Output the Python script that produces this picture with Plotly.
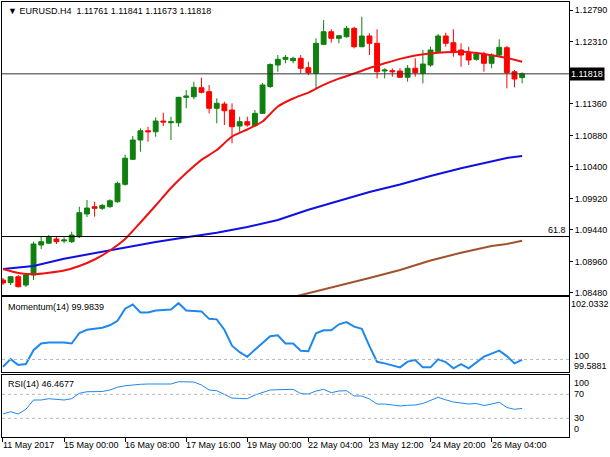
import plotly.graph_objects as go

# ---------------- data ----------------
bars = list(range(69))  # H4 bars, 11 May 2017 20:00 ... 26 May 2017 20:00

opens = [1.08678, 1.08637, 1.08728, 1.08601, 1.08754, 1.09211, 1.09238, 1.09302, 1.09272, 1.09261,
         1.09337, 1.09683, 1.09794, 1.09770, 1.09794, 1.09870, 1.10135, 1.10516, 1.10810, 1.10951,
         1.10936, 1.11099, 1.11073, 1.11073, 1.11460, 1.11469, 1.11606, 1.11546, 1.11293, 1.11358,
         1.11267, 1.11023, 1.11089, 1.11028, 1.11216, 1.11625, 1.11952, 1.12039, 1.12018, 1.12054,
         1.11911, 1.11826, 1.12267, 1.12459, 1.12359, 1.12383, 1.12511, 1.12231, 1.12394, 1.12283,
         1.11861, 1.11866, 1.11861, 1.11765, 1.11902, 1.11826, 1.11952, 1.12155, 1.12394, 1.12292,
         1.12181, 1.12130, 1.12039, 1.12120, 1.11978, 1.12104, 1.12216, 1.11850, 1.11761]
highs = [1.08708, 1.08739, 1.08754, 1.08784, 1.09261, 1.09337, 1.09363, 1.09337, 1.09328, 1.09413,
         1.09794, 1.09896, 1.09870, 1.09836, 1.09907, 1.10175, 1.10585, 1.10871, 1.10988, 1.11012,
         1.11155, 1.11226, 1.11165, 1.11469, 1.11571, 1.11698, 1.11758, 1.11648, 1.11445, 1.11393,
         1.11369, 1.11165, 1.11165, 1.11267, 1.11678, 1.11978, 1.12105, 1.12105, 1.12079, 1.12105,
         1.12002, 1.12359, 1.12637, 1.12496, 1.12409, 1.12546, 1.12535, 1.12688, 1.12435, 1.12496,
         1.11902, 1.11902, 1.11902, 1.11952, 1.12054, 1.12181, 1.12231, 1.12424, 1.12444, 1.12496,
         1.12283, 1.12231, 1.12155, 1.12155, 1.12130, 1.12343, 1.12242, 1.11876, 1.11841]
lows = [1.08601, 1.08601, 1.08563, 1.08571, 1.08678, 1.09150, 1.09226, 1.09226, 1.09237, 1.09241,
        1.09317, 1.09637, 1.09642, 1.09744, 1.09779, 1.09855, 1.10114, 1.10505, 1.10632, 1.10784,
        1.10860, 1.11023, 1.10810, 1.11012, 1.11293, 1.11430, 1.11521, 1.11216, 1.11064, 1.11038,
        1.10760, 1.10936, 1.11012, 1.11008, 1.11206, 1.11602, 1.11850, 1.11978, 1.11978, 1.11826,
        1.11800, 1.11597, 1.12257, 1.12292, 1.12283, 1.12368, 1.12206, 1.12222, 1.12104, 1.11749,
        1.11749, 1.11774, 1.11758, 1.11698, 1.11774, 1.11673, 1.11926, 1.12142, 1.12231, 1.12079,
        1.11926, 1.11952, 1.12018, 1.11850, 1.11902, 1.12079, 1.11597, 1.11612, 1.11673]
closes = [1.08632, 1.08728, 1.08576, 1.08754, 1.09226, 1.09261, 1.09328, 1.09261, 1.09287, 1.09363,
          1.09703, 1.09774, 1.09770, 1.09814, 1.09885, 1.10150, 1.10533, 1.10810, 1.10951, 1.10936,
          1.11099, 1.11084, 1.11089, 1.11460, 1.11480, 1.11612, 1.11536, 1.11293, 1.11369, 1.11256,
          1.11012, 1.11089, 1.11038, 1.11216, 1.11648, 1.11960, 1.12039, 1.12069, 1.12054, 1.11902,
          1.11835, 1.12283, 1.12459, 1.12359, 1.12398, 1.12511, 1.12231, 1.12394, 1.12283, 1.11850,
          1.11876, 1.11850, 1.11765, 1.11902, 1.11835, 1.11967, 1.12181, 1.12394, 1.12283, 1.12155,
          1.12104, 1.12028, 1.12120, 1.11978, 1.12104, 1.12222, 1.11835, 1.11739, 1.11818]

ma_red_bars = list(range(0, 69, 2))
ma_red = [1.08845, 1.08784, 1.08764, 1.08787, 1.08822, 1.08891, 1.08990, 1.09127, 1.09302, 1.09553,
          1.09812, 1.10079, 1.10307, 1.10508, 1.10657, 1.10863, 1.10970, 1.11092, 1.11320, 1.11442,
          1.11533, 1.11650, 1.11745, 1.11823, 1.11906, 1.11979, 1.12046, 1.12097, 1.12127, 1.12145,
          1.12153, 1.12135, 1.12101, 1.12059, 1.12002]

ma_blue_bars = [0, 4, 8, 12, 16, 20, 24, 28, 32, 36, 40, 44, 48, 52, 56, 60, 64, 66, 68]
ma_blue = [1.08845, 1.08891, 1.09002, 1.09086, 1.09173, 1.09256, 1.09328, 1.09397, 1.09485, 1.09591,
           1.09748, 1.09881, 1.10018, 1.10132, 1.10262, 1.10379, 1.10479, 1.10536, 1.10566]

ma_brown_bars = [38, 40, 44, 48, 52, 56, 60, 64, 66, 68]
ma_brown = [1.08419, 1.08475, 1.08594, 1.08708, 1.08830, 1.08975, 1.09093, 1.09195, 1.09226, 1.09276]

momentum = [99.761, 100.012, 99.816, 99.849, 100.305, 100.524, 100.556, 100.556, 100.556, 100.524,
            100.869, 100.974, 101.006, 101.039, 101.120, 101.267, 101.665, 101.805, 101.544, 101.544,
            101.609, 101.626, 101.642, 101.847, 101.609, 101.593, 101.577, 101.332, 101.316, 100.974,
            100.452, 100.240, 100.087, 100.322, 100.550, 100.762, 100.794, 100.524, 100.524, 100.289,
            100.273, 100.860, 100.957, 100.957, 101.153, 101.228, 101.078, 101.006, 100.436, 99.924,
            99.872, 99.807, 99.741, 99.930, 99.979, 99.741, 99.741, 100.002, 99.914, 99.709,
            99.849, 99.709, 99.914, 100.093, 100.191, 100.289, 100.110, 99.872, 99.9839]

rsi = [37.2, 41.0, 37.2, 45.0, 60.5, 60.5, 62.7, 61.3, 60.5, 62.7,
       71.7, 74.3, 74.3, 74.7, 77.2, 81.7, 84.3, 86.0, 86.7, 87.2,
       87.2, 87.2, 87.2, 91.0, 90.8, 90.5, 85.5, 77.2, 76.0, 70.5,
       63.8, 63.0, 62.7, 68.8, 73.0, 77.2, 77.7, 78.0, 78.3, 71.3,
       70.5, 75.5, 78.3, 72.7, 75.5, 76.0, 67.2, 67.2, 62.2, 53.8,
       53.8, 52.2, 50.5, 51.7, 52.2, 54.7, 59.7, 65.0, 60.8, 57.2,
       55.5, 53.8, 54.7, 51.3, 53.8, 56.7, 48.0, 45.0, 46.4677]

time_tick_bars = [0, 8, 16, 24, 32, 40, 48, 56, 64]
time_tick_labels = ["11 May 2017", "15 May 00:00", "16 May 08:00", "17 May 16:00", "19 May 00:00",
                    "22 May 04:00", "23 May 12:00", "24 May 20:00", "26 May 04:00"]

price_ticks = [1.12790, 1.12310, 1.11360, 1.10880, 1.10400, 1.09920, 1.09440, 1.08960, 1.08480]
last_price = 1.11818
fib_level = 1.0934
header = "▼ EURUSD.H4  1.11761 1.11841 1.11673 1.11818"
mom_title = "Momentum(14) 99.9839"
rsi_title = "RSI(14) 46.4677"
mom_min, mom_max, mom_mid = 99.5881, 102.0332, 100
rsi_levels = [100, 70, 30, 0]

# ---------------- styles ----------------
GREEN = "#0f800f"
RED = "#ff0000"
FONT = "Liberation Sans"
XR = [-0.13, 74.14]

fig = go.Figure()

fig.add_trace(go.Candlestick(
    x=bars, open=opens, high=highs, low=lows, close=closes,
    xaxis="x", yaxis="y", whiskerwidth=0,
    increasing=dict(line=dict(color=GREEN, width=1), fillcolor=GREEN),
    decreasing=dict(line=dict(color=RED, width=1), fillcolor=RED),
    hoverinfo="skip", showlegend=False))

fig.add_trace(go.Scatter(x=ma_brown_bars, y=ma_brown, mode="lines", xaxis="x", yaxis="y",
                         line=dict(color="#a0522d", width=2), showlegend=False, hoverinfo="skip"))
fig.add_trace(go.Scatter(x=ma_blue_bars, y=ma_blue, mode="lines", xaxis="x", yaxis="y",
                         line=dict(color="#1010e0", width=2), showlegend=False, hoverinfo="skip"))
fig.add_trace(go.Scatter(x=ma_red_bars, y=ma_red, mode="lines", xaxis="x", yaxis="y",
                         line=dict(color="#ee1111", width=2, shape="spline", smoothing=0.6),
                         showlegend=False, hoverinfo="skip"))

fig.add_trace(go.Scatter(x=bars, y=momentum, mode="lines", xaxis="x2", yaxis="y2",
                         line=dict(color="#1e88ee", width=2), showlegend=False, hoverinfo="skip"))
fig.add_trace(go.Scatter(x=bars, y=rsi, mode="lines", xaxis="x3", yaxis="y3",
                         line=dict(color="#1e88ee", width=1), showlegend=False, hoverinfo="skip"))

shapes = [
    dict(type="line", xref="paper", x0=0, x1=1, yref="y", y0=last_price, y1=last_price,
         line=dict(color="#333333", width=1)),
    dict(type="line", xref="paper", x0=0, x1=1, yref="y", y0=fib_level, y1=fib_level,
         line=dict(color="#000000", width=1)),
    dict(type="line", xref="paper", x0=0, x1=1, yref="y2", y0=mom_mid, y1=mom_mid,
         line=dict(color="#b8b8b8", width=1, dash="3px,3px")),
    dict(type="line", xref="paper", x0=0, x1=1, yref="y3", y0=70, y1=70,
         line=dict(color="#b8b8b8", width=1, dash="3px,3px")),
    dict(type="line", xref="paper", x0=0, x1=1, yref="y3", y0=30, y1=30,
         line=dict(color="#b8b8b8", width=1, dash="3px,3px")),
]

ann = []
ann.append(dict(text=header, xref="paper", x=0, xanchor="left", xshift=4,
                yref="paper", y=1, yanchor="top", yshift=-2, showarrow=False,
                font=dict(size=9, color="black")))
ann.append(dict(text=mom_title, xref="paper", x=0, xanchor="left", xshift=4,
                yref="y2 domain", y=1, yanchor="top", yshift=-3, showarrow=False,
                font=dict(size=9, color="black")))
ann.append(dict(text=rsi_title, xref="paper", x=0, xanchor="left", xshift=4,
                yref="y3 domain", y=1, yanchor="top", yshift=-2, showarrow=False,
                font=dict(size=9, color="black")))
ann.append(dict(text=f"{last_price:.5f}", xref="paper", x=1, xanchor="left", xshift=0,
                yref="y", y=last_price, yanchor="middle", showarrow=False,
                bgcolor="black", borderpad=1, font=dict(size=9, color="white")))
ann.append(dict(text="61.8", xref="paper", x=1, xanchor="right", xshift=-1,
                yref="y", y=fib_level, yanchor="bottom", showarrow=False,
                font=dict(size=9, color="black")))
# momentum scale labels
ann.append(dict(text=f"{mom_max:.4f}", xref="paper", x=1, xanchor="left", xshift=0,
                yref="y2", y=mom_max, yanchor="top", showarrow=False, font=dict(size=9, color="black")))
ann.append(dict(text=f"{mom_mid}", xref="paper", x=1, xanchor="left", xshift=3,
                yref="y2", y=mom_mid, yanchor="middle", yshift=3, showarrow=False, font=dict(size=9, color="black")))
ann.append(dict(text=f"{mom_min:.4f}", xref="paper", x=1, xanchor="left", xshift=3,
                yref="y2", y=mom_min, yanchor="bottom", yshift=-1, showarrow=False, font=dict(size=9, color="black")))
# rsi scale labels
for lv in rsi_levels:
    anc = "top" if lv == 100 else ("bottom" if lv == 0 else "middle")
    ann.append(dict(text=str(lv), xref="paper", x=1, xanchor="left", xshift=3,
                    yref="y3", y=lv, yanchor=anc, showarrow=False, font=dict(size=9, color="black")))
# time labels
for b, t in zip(time_tick_bars, time_tick_labels):
    ann.append(dict(text=t, xref="x3", x=b, xanchor="left", xshift=-2,
                    yref="paper", y=0, yanchor="top", yshift=-1, showarrow=False,
                    font=dict(size=9, color="black")))

axis_common = dict(showgrid=False, zeroline=False, showline=True, mirror=True,
                   linecolor="black", linewidth=1)

fig.update_layout(
    width=610, height=457,
    margin=dict(l=2, r=41, t=2, b=20),
    paper_bgcolor="white", plot_bgcolor="white",
    font=dict(family=FONT, size=9, color="black"),
    showlegend=False, boxgap=0.2, boxgroupgap=0.2,
    shapes=shapes, annotations=ann,
    xaxis=dict(domain=[0, 1], anchor="y", range=XR, showticklabels=False, ticks="",
               rangeslider=dict(visible=False), **axis_common),
    yaxis=dict(domain=[0.3264, 1], anchor="x", range=[1.08449, 1.12912], side="right",
               tickvals=price_ticks, tickformat=".5f", ticks="outside", ticklen=3,
               tickcolor="black", tickfont=dict(size=9, color="black"), **axis_common),
    xaxis2=dict(domain=[0, 1], anchor="y2", range=XR, showticklabels=False, ticks="", **axis_common),
    yaxis2=dict(domain=[0.1494, 0.3207], anchor="x2", range=[mom_min, mom_max],
                showticklabels=False, ticks="", **axis_common),
    xaxis3=dict(domain=[0, 1], anchor="y3", range=XR, showticklabels=False,
                tickvals=time_tick_bars, ticks="outside", ticklen=4, tickcolor="black", **axis_common),
    yaxis3=dict(domain=[0, 0.1425], anchor="x3", range=[-1.2, 102.2],
                showticklabels=False, ticks="", **axis_common),
)

fig.write_html("out.html", config={"displayModeBar": False},
               post_script="document.body.style.margin='0px';document.body.style.overflow='hidden';")
